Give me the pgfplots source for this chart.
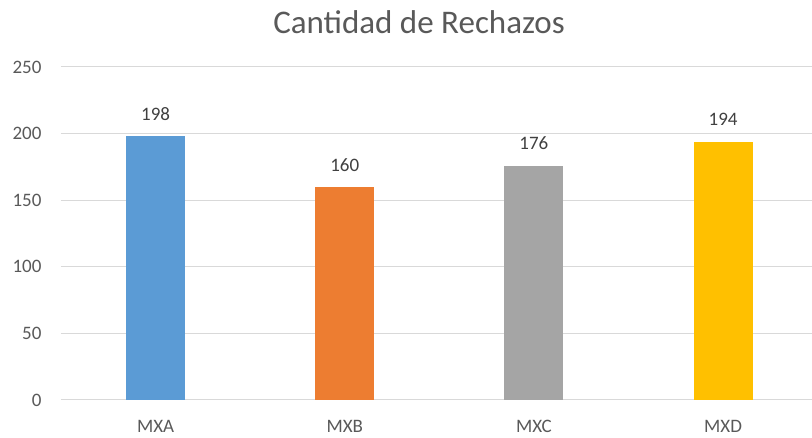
\documentclass[border=0pt]{standalone}
\usepackage{pgfplots}
\pgfplotsset{compat=1.18}
\usepackage{fontspec}
\setmainfont{Carlito}
\definecolor{cA}{HTML}{5B9BD5}
\definecolor{cB}{HTML}{ED7D31}
\definecolor{cC}{HTML}{A5A5A5}
\definecolor{cD}{HTML}{FFC000}
\definecolor{gridc}{HTML}{D9D9D9}
\definecolor{txt}{HTML}{595959}
\definecolor{lbl}{HTML}{404040}
\begin{document}
\begin{tikzpicture}
\path[use as bounding box] (0,0) rectangle (812pt,438pt);
\begin{axis}[
  at={(61pt,38pt)}, anchor=south west,
  scale only axis, width=751pt, height=333pt,
  xmin=-0.5, xmax=3.47, ymin=0, ymax=250,
  ytick={0,50,...,250},
  xtick={0,1,2,3}, xticklabels={MXA,MXB,MXC,MXD},
  ymajorgrids, grid style={draw=gridc, line width=1pt},
  axis line style={draw=none},
  major tick length=0pt,
  tick label style={font=\fontsize{19}{19}\selectfont, text=txt},
  yticklabel style={xshift=-16pt},
  xticklabel style={yshift=-17pt},
  /pgf/number format/assume math mode=true,
  ybar, bar width=59pt,
  nodes near coords,
  nodes near coords style={font=\fontsize{19}{19}\selectfont, text=lbl, anchor=center, yshift=22pt},
  clip=false,
]
\addplot[bar shift=0pt, fill=cA, draw=none] coordinates {(0,198)};
\addplot[bar shift=0pt, fill=cB, draw=none] coordinates {(1,160)};
\addplot[bar shift=0pt, fill=cC, draw=none] coordinates {(2,176)};
\addplot[bar shift=0pt, fill=cD, draw=none] coordinates {(3,194)};
\end{axis}
\node[font=\fontsize{33}{33}\selectfont, text=txt] at (419pt,416pt) {Cantidad de Rechazos};
\end{tikzpicture}
\end{document}
